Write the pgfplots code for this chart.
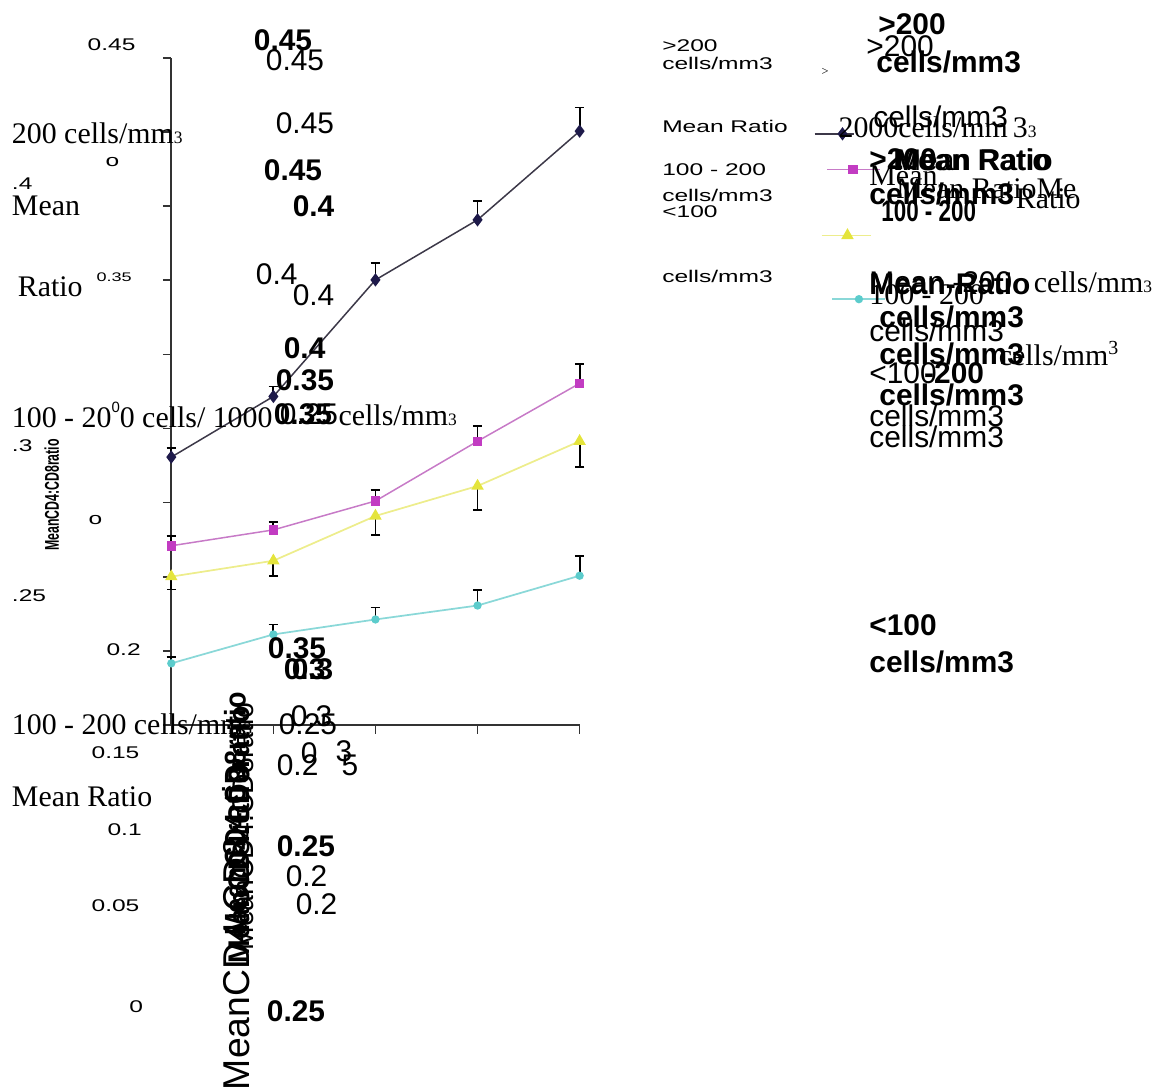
\documentclass[border=0pt]{standalone}
\usepackage{pgfplots}
\pgfplotsset{compat=1.18}
\usepackage{fontspec}
\setmainfont{Liberation Serif}
\setsansfont{Liberation Sans}
\usepackage{graphicx}
\definecolor{cdark}{HTML}{1E1A4A}
\definecolor{cdarkline}{HTML}{3C3848}
\definecolor{cmag}{HTML}{C23CC2}
\definecolor{cmagline}{HTML}{C77AC7}
\definecolor{cyel}{HTML}{E4E43C}
\definecolor{cyelline}{HTML}{EDED8C}
\definecolor{ccyan}{HTML}{5CCCCC}
\definecolor{ccyanline}{HTML}{8AD8D8}
% x, y (pixel, y down), size, xscale, font, text
\newcommand{\txt}[6]{\node[anchor=west,inner sep=0pt,outer sep=0pt] at (#1,#2) {\fontsize{#3}{#3}\selectfont#5\scalebox{#4}[1]{#6}};}
\newcommand{\sm}{\fontsize{7pt}{7pt}\selectfont}
\pgfplotsset{errstyle/.style={error bars/.cd, y dir=#1, y explicit,
  error bar style={black, line width=0.75pt},
  error mark options={rotate=90, black, mark size=1.9pt, line width=0.75pt}}}
\begin{document}
\begin{tikzpicture}
\begin{scope}[x=0.4pt,y=-0.4pt]
\path[use as bounding box] (0,0) rectangle (1152,1068);
\end{scope}
\begin{axis}[
  at={(68.8pt,-291.2pt)}, anchor=south west,
  scale only axis, width=164pt, height=268pt,
  xmin=0, xmax=4, ymin=0, ymax=0.45,
  axis x line=bottom, axis y line=left,
  axis line style={-, black!80, line width=0.7pt},
  xtick={0,1,2,3,4}, xticklabels={},
  ytick={0,0.05,0.1,0.15,0.2,0.25,0.3,0.35,0.4,0.45}, yticklabels={},
  tick align=outside, major tick length=3.4pt,
  tick style={black!80, line width=0.6pt},
  clip=false,
  legend columns=4,
  legend style={at={(axis description cs:1.556,0.897)}, anchor=north west,
    draw=none, fill=none, column sep=0pt, row sep=0pt,
    nodes={inner sep=0pt, outer sep=0pt}},
]
\addplot[color=cdarkline, line width=0.6pt, mark=diamond*, mark size=2.2pt,
  mark options={fill=cdark, draw=cdark},
  legend image code/.code={\draw[overlay,mark repeat=2,mark phase=2] plot coordinates {(0pt,0pt)(11.2pt,0pt)(16pt,0pt)};},
  errstyle=plus]
coordinates {
(0,0.1807) +- (0,0.0060)
(1,0.2216) +- (0,0.0067)
(2,0.3002) +- (0,0.0114)
(3,0.3407) +- (0,0.0128)
(4,0.4005) +- (0,0.0160)
};
\addlegendentry{}
\addplot[color=cmagline, line width=0.6pt, mark=square*, mark size=1.6pt,
  mark options={fill=cmag, draw=cmag},
  legend image code/.code={\draw[overlay,mark repeat=2,mark phase=2] plot coordinates {(4pt,-14.4pt)(14.4pt,-14.4pt)(25.2pt,-14.4pt)};},
  errstyle=plus]
coordinates {
(0,0.1209) +- (0,0.0067)
(1,0.1316) +- (0,0.0054)
(2,0.1511) +- (0,0.0074)
(3,0.1914) +- (0,0.0101)
(4,0.2304) +- (0,0.0128)
};
\addlegendentry{}
\addplot[color=cyelline, line width=0.7pt, mark=triangle*, mark size=2.2pt,
  mark options={fill=cyel, draw=cyel},
  legend image code/.code={\draw[overlay,mark repeat=2,mark phase=2] plot coordinates {(0.8pt,-40.8pt)(11.2pt,-40.8pt)(20.8pt,-40.8pt)};},
  errstyle=minus]
coordinates {
(0,0.1001) +- (0,0.0087)
(1,0.1108) +- (0,0.0101)
(2,0.1410) +- (0,0.0128)
(3,0.1612) +- (0,0.0161)
(4,0.1914) +- (0,0.0175)
};
\addlegendentry{}
\addplot[color=ccyanline, line width=0.7pt, mark=*, mark size=1.3pt,
  mark options={fill=ccyan, draw=ccyan},
  legend image code/.code={\draw[overlay,mark repeat=2,mark phase=2] plot coordinates {(4pt,-66.4pt)(14.8pt,-66.4pt)(25.2pt,-66.4pt)};},
  errstyle=plus]
coordinates {
(0,0.0416) +- (0,0.0040)
(1,0.0611) +- (0,0.0067)
(2,0.0712) +- (0,0.0081)
(3,0.0806) +- (0,0.0107)
(4,0.1007) +- (0,0.0134)
};
\addlegendentry{}
\end{axis}
\begin{scope}[x=0.4pt,y=-0.4pt]
% ---- left column texts
\txt{88}{45}{6.8pt}{1.45}{\sffamily}{0.45}
\txt{12}{134}{12pt}{1}{\rmfamily}{200 cells/mm{\sm 3}}
\txt{106}{163}{6.8pt}{1.45}{\sffamily}{o}
\txt{12}{184}{6.8pt}{1.45}{\sffamily}{.4}
\txt{12}{207}{12pt}{1}{\rmfamily}{Mean}
\txt{18}{288}{12pt}{1}{\rmfamily}{Ratio}
\txt{97}{278}{5pt}{1.45}{\sffamily}{0.35}
\txt{12}{417}{12pt}{1}{\rmfamily}{100 - 20\raisebox{1.1ex}{\fontsize{6pt}{6pt}\selectfont\sffamily 0}0 cells/ 1000}
\txt{340}{417}{12pt}{1}{\rmfamily}{cells/mm{\sm 3}}
\txt{12}{447}{6.8pt}{1.45}{\sffamily}{.3}
\node[rotate=90,inner sep=0pt] at (52,497) {\fontsize{8pt}{8pt}\selectfont\sffamily\bfseries\scalebox{0.62}[1]{MeanCD4:CD8ratio}};
\txt{89}{522}{6.8pt}{1.45}{\sffamily}{o}
\txt{12}{598}{6.8pt}{1.45}{\sffamily}{.25}
\txt{107}{652}{6.8pt}{1.45}{\sffamily}{0.2}
\txt{12}{727}{12pt}{1}{\rmfamily}{100 - 200 cells/mm{\sm 3}}
\txt{92}{756}{6.8pt}{1.45}{\sffamily}{0.15}
\txt{12}{800}{12pt}{1}{\rmfamily}{Mean Ratio}
\txt{108}{833}{6.8pt}{1.45}{\sffamily}{0.1}
\txt{92}{909}{6.8pt}{1.45}{\sffamily}{0.05}
\txt{130}{1011}{6.8pt}{1.45}{\sffamily}{0}
% ---- middle numbers
\txt{255}{40}{12pt}{1}{\sffamily\bfseries}{0.45}
\txt{267}{60}{12pt}{1}{\sffamily}{0.45}
\txt{277}{124}{12pt}{1}{\sffamily}{0.45}
\txt{265}{171}{12pt}{1}{\sffamily\bfseries}{0.45}
\txt{294}{207}{12pt}{1}{\sffamily\bfseries}{0.4}
\txt{257}{275}{12pt}{1}{\sffamily}{0.4}
\txt{294}{296}{12pt}{1}{\sffamily}{0.4}
\txt{285}{350}{12pt}{1}{\sffamily\bfseries}{0.4}
\txt{277}{382}{12pt}{1}{\sffamily\bfseries}{0.35}
\txt{275}{416}{12pt}{1}{\sffamily\bfseries}{0.35}
\txt{281}{416}{12pt}{1}{\sffamily}{0.25}
\txt{269}{651}{12pt}{1}{\sffamily\bfseries}{0.35}
\txt{285}{672}{12pt}{1}{\sffamily\bfseries}{0.3}
\txt{293}{672}{12pt}{1}{\sffamily\bfseries}{0.3}
\txt{280}{727}{12pt}{1}{\sffamily}{0.25}
\txt{292}{719}{12pt}{1}{\sffamily}{0.3}
\txt{278}{768}{12pt}{1}{\sffamily}{0.2}
\txt{343}{768}{12pt}{1}{\sffamily}{5}
\txt{302}{756}{12pt}{1}{\sffamily}{0}
\txt{337}{754}{12pt}{1}{\sffamily}{3}
\txt{278}{850}{12pt}{1}{\sffamily\bfseries}{0.25}
\txt{287}{880}{12pt}{1}{\sffamily}{0.2}
\txt{297}{908}{12pt}{1}{\sffamily}{0.2}
\txt{268}{1015}{12pt}{1}{\sffamily\bfseries}{0.25}
% rotated texts near x axis
\node[rotate=90,anchor=west,inner sep=0pt] at (237,1095) {\fontsize{15pt}{15pt}\selectfont\sffamily MeanCD4:CD8ratio};
\node[rotate=90,anchor=west,inner sep=0pt] at (240,968) {\fontsize{12pt}{12pt}\selectfont\sffamily\bfseries\scalebox{0.95}[1]{MeanCD4:CD8ratio}};
\node[rotate=90,anchor=west,inner sep=0pt] at (236,940) {\fontsize{12pt}{12pt}\selectfont\sffamily\bfseries\scalebox{0.9}[1]{MeanCD4:CD8ratio}};
\node[rotate=90,anchor=west,inner sep=0pt] at (244,955) {\fontsize{12pt}{12pt}\selectfont\sffamily\scalebox{0.95}[1]{MeanCD4:CD8ratio}};
% ---- legend side labels
\txt{665}{46}{6.8pt}{1.45}{\sffamily}{>200}
\txt{665}{64}{6.8pt}{1.45}{\sffamily}{cells/mm3}
\txt{665}{127}{6.8pt}{1.45}{\sffamily}{Mean Ratio}
\txt{665}{170}{6.8pt}{1.45}{\sffamily}{100 - 200}
\txt{665}{196}{6.8pt}{1.45}{\sffamily}{cells/mm3}
\txt{665}{213}{6.8pt}{1.45}{\sffamily}{<100}
\txt{665}{278}{6.8pt}{1.45}{\sffamily}{cells/mm3}
\txt{825}{72}{5pt}{1}{\rmfamily}{>}
% ---- right garbled texts
\txt{882}{24}{12pt}{1}{\sffamily\bfseries}{>200}
\txt{870}{46}{12pt}{1}{\sffamily}{>200}
\txt{880}{62}{12pt}{1}{\sffamily\bfseries}{cells/mm3}
\txt{877}{117}{12pt}{1}{\sffamily}{cells/mm3}
\txt{842}{128}{12pt}{1}{\rmfamily}{2000cells/mm\,3{\sm 3}}
\txt{873}{160}{12pt}{1}{\sffamily\bfseries}{>200}
\txt{897}{160}{12pt}{1}{\sffamily\bfseries}{Mean Ratio}
\txt{900}{160}{12pt}{1}{\sffamily}{Mean Ratio}
\txt{873}{177}{12pt}{1}{\rmfamily}{Mean}
\txt{873}{195}{12pt}{1}{\sffamily\bfseries}{cells/mm3}
\txt{900}{190}{12pt}{1}{\rmfamily}{Mean RatioMe}
\txt{1020}{200}{12pt}{1}{\rmfamily}{Ratio}
\txt{885}{212}{12pt}{0.75}{\sffamily\bfseries}{100 - 200}
\txt{873}{285}{12pt}{1}{\sffamily\bfseries}{Mean-Ratio}
\txt{873}{283}{12pt}{1}{\sffamily}{Mean -200}
\txt{873}{296}{12pt}{1}{\rmfamily}{100 - 200}
\txt{1038}{283}{12pt}{1}{\rmfamily}{cells/mm{\sm 3}}
\txt{883}{318}{12pt}{1}{\sffamily\bfseries}{cells/mm3}
\txt{873}{332}{12pt}{1}{\sffamily}{cells/mm3}
\txt{883}{355}{12pt}{1}{\sffamily\bfseries}{cells/mm3}
\txt{1003}{355}{12pt}{1}{\rmfamily}{cells/mm\textsuperscript{3}}
\txt{873}{375}{12pt}{1}{\sffamily}{<100}
\txt{928}{375}{12pt}{1}{\sffamily\bfseries}{-200}
\txt{883}{397}{12pt}{1}{\sffamily\bfseries}{cells/mm3}
\txt{873}{418}{12pt}{1}{\sffamily}{cells/mm3}
\txt{873}{439}{12pt}{1}{\sffamily}{cells/mm3}
\txt{873}{628}{12pt}{1}{\sffamily\bfseries}{<100}
\txt{873}{665}{12pt}{1}{\sffamily\bfseries}{cells/mm3}
\end{scope}
\end{tikzpicture}
\end{document}
